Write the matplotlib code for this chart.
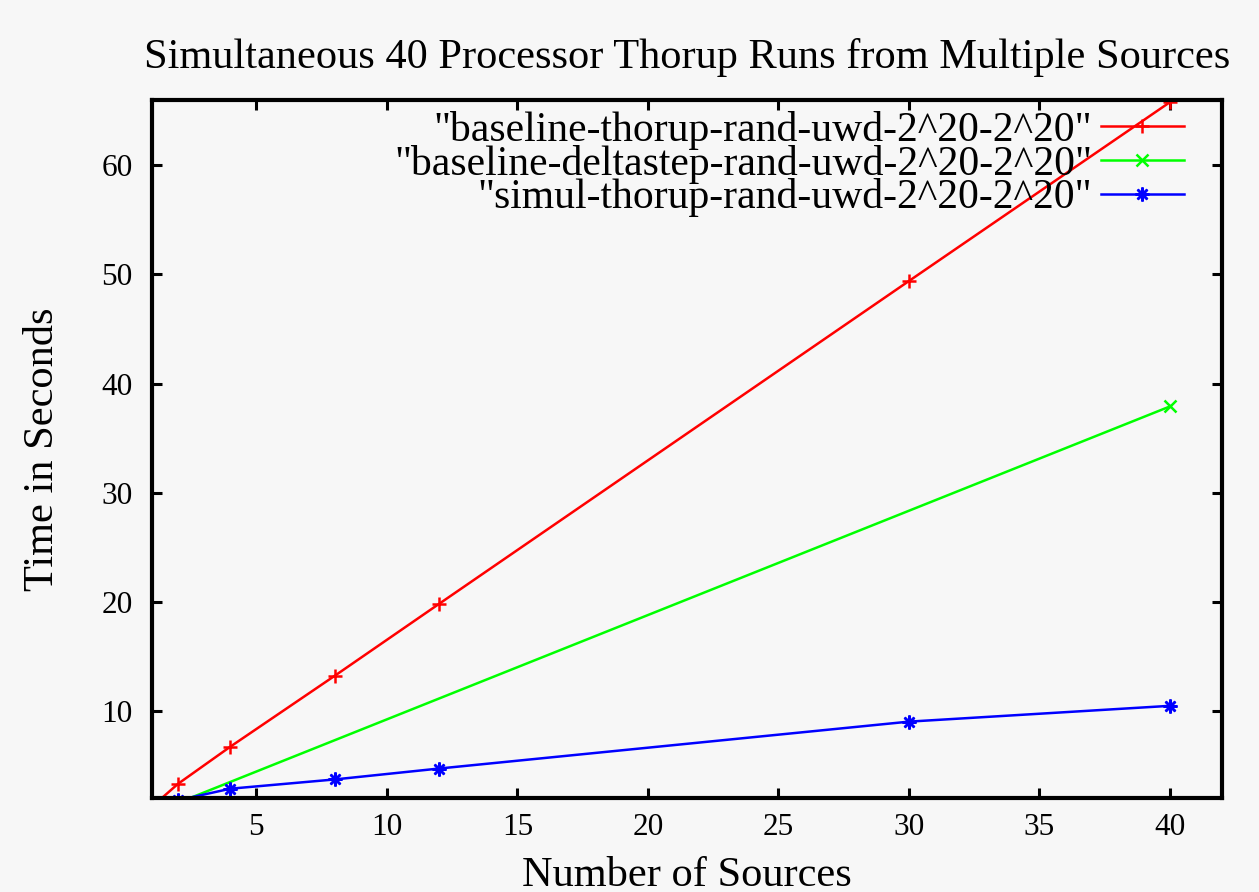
"""
Simultaneous 40 processor Thorup runs, gnuplot-style recreation
"""

import matplotlib
matplotlib.use('Agg')
import matplotlib.pyplot as plt

# Data
sources = [1, 2, 4, 8, 12, 30, 40]
thorup_times = [1.2, 3.3, 6.7, 13.2, 19.8, 49.4, 65.8]
deltastep_sources = [1, 40]
deltastep_times = [0.6, 37.9]
simul_times = [1.0, 1.79, 2.85, 3.7, 4.7, 9.0, 10.45]

labels = [
    '"baseline-thorup-rand-uwd-2^20-2^20"',
    '"baseline-deltastep-rand-uwd-2^20-2^20"',
    '"simul-thorup-rand-uwd-2^20-2^20"',
]
x_ticks = [5, 10, 15, 20, 25, 30, 35, 40]
y_ticks = [10, 20, 30, 40, 50, 60]

bg = '#f7f7f7'
plt.rcParams['font.family'] = ['Liberation Serif', 'DejaVu Serif']

fig = plt.figure(figsize=(12.59, 8.92), dpi=100, facecolor=bg)
ax = fig.add_axes([0.1207, 0.1054, 0.850, 0.7825], facecolor=bg)

asterisk = (8, 2, 0)
ax.plot(sources, thorup_times, color='#ff0000', lw=1.8, marker='+',
        ms=10, mew=1.8, label=labels[0])
ax.plot(deltastep_sources, deltastep_times, color='#00ff00', lw=1.8, marker='x',
        ms=9, mew=1.8, label=labels[1])
ax.plot(sources, simul_times, color='#0000ff', lw=1.8, marker=asterisk,
        ms=10, mew=1.8, label=labels[2])

ax.set_xlim(1, 42)
ax.set_ylim(2, 66)
ax.set_xticks(x_ticks)
ax.set_yticks(y_ticks)

for spine in ax.spines.values():
    spine.set_linewidth(3)
ax.tick_params(direction='in', length=7, width=2.2, top=True, right=True,
               labelsize=22.5)
ax.tick_params(axis='x', pad=11)
ax.tick_params(axis='y', pad=14)

ax.set_title('Simultaneous 40 Processor Thorup Runs from Multiple Sources',
             fontsize=30.5, pad=23)
ax.set_xlabel('Number of Sources', fontsize=30.5, labelpad=10)
ax.set_ylabel('Time in Seconds', fontsize=30.5, labelpad=28)

leg = ax.legend(loc='upper right', frameon=False, markerfirst=False,
                fontsize=30, handlelength=2.0, handletextpad=0.2,
                labelspacing=-0.13, borderaxespad=0.0,
                bbox_to_anchor=(0.98, 1.008))
for t in leg.get_texts():
    t.set_ha('right')

plt.savefig('out.png', dpi=100, facecolor=bg)
